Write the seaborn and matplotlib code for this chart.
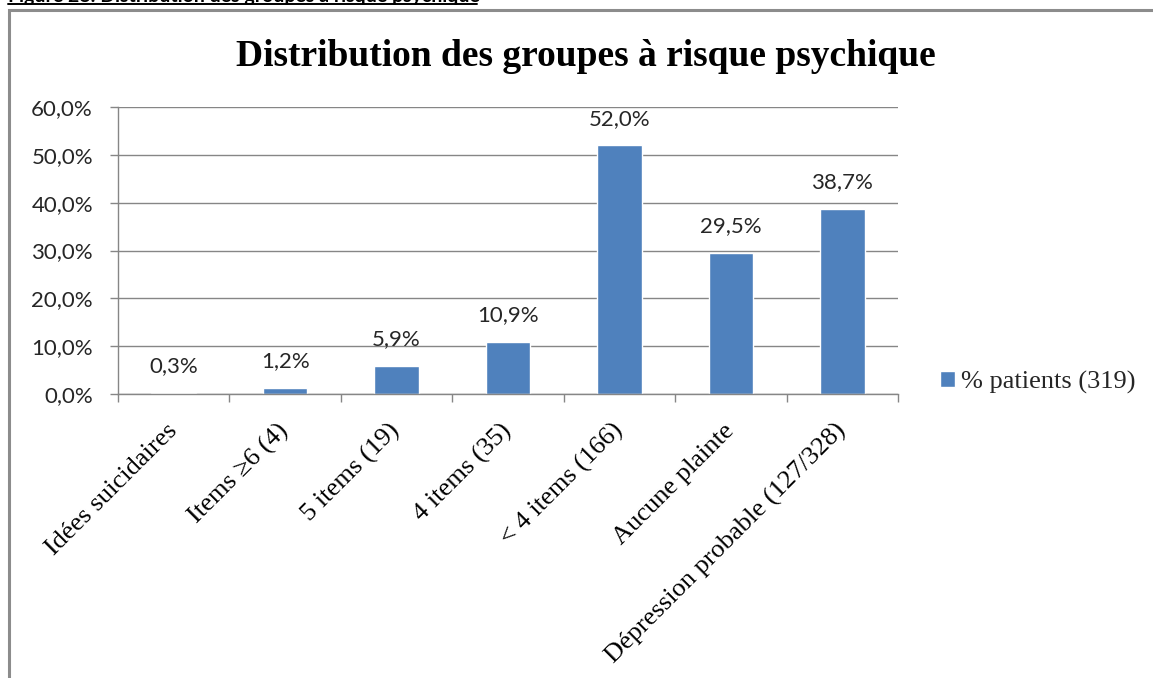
import matplotlib
matplotlib.use("Agg")
import matplotlib.pyplot as plt
from matplotlib.patches import Rectangle
from matplotlib.lines import Line2D
from matplotlib.ticker import FixedLocator
import seaborn as sns
import pandas as pd

categories = [
    "Idées suicidaires",
    "Items \u22656 (4)",
    "5 items (19)",
    "4 items (35)",
    "< 4 items (166)",
    "Aucune plainte",
    "Dépression probable (127/328)",
]
values = [0.3, 1.2, 5.9, 10.9, 52.0, 29.5, 38.7]
series_name = "% patients (319)"
y_ticks = [0, 10, 20, 30, 40, 50, 60]

title = "Distribution des groupes à risque psychique"
caption = "Figure 28: Distribution des groupes à risque psychique"

df = pd.DataFrame({"cat": categories, "val": values, "serie": series_name})

sns.set_theme(style="white")
plt.rcParams["font.family"] = ["Lato", "DejaVu Sans"]

BAR = "#4F81BD"
GRID = "#868686"
TXT = "#262626"
SERIF = ["Liberation Serif", "DejaVu Serif"]

W, H = 1153, 678
fig = plt.figure(figsize=(W / 100, H / 100), dpi=100)
fig.patch.set_facecolor("white")

# outer chart frame
fig.add_artist(Rectangle((9 / W, -0.05), 1.2, 1 - 10 / H + 0.05,
                         transform=fig.transFigure, fill=False,
                         edgecolor="#8c8c8c", linewidth=2.2))

# document caption (partly above the page edge)
fig.text(8 / W, 1 - 2 / H, caption, fontsize=14, fontweight="bold",
         color="black", ha="left", va="baseline")
fig.add_artist(Line2D([8 / W, 477 / W], [1 - 4.3 / H, 1 - 4.3 / H],
                      transform=fig.transFigure, color="black", linewidth=1.4))

ax = fig.add_axes([118 / W, 284 / H, 780 / W, 287 / H])
sns.barplot(data=df, x="cat", y="val", hue="serie", palette=[BAR],
            width=0.4, ax=ax, saturation=1, legend=True)

ax.set_xlim(-0.5, len(categories) - 0.5)
ax.set_ylim(0, 60)
ax.set_yticks(y_ticks)
ax.set_yticklabels([f"{t:.1f}".replace(".", ",") + "%" for t in y_ticks],
                   fontsize=16, color=TXT)
ax.yaxis.grid(True, color=GRID, linewidth=1)
ax.set_axisbelow(True)
ax.set_xlabel("")
ax.set_ylabel("")

for s in ["top", "right"]:
    ax.spines[s].set_visible(False)
for s in ["left", "bottom"]:
    ax.spines[s].set_color(GRID)
    ax.spines[s].set_linewidth(1)

ax.tick_params(axis="y", which="major", left=True, length=6, width=1,
               color=GRID, pad=12)
ax.tick_params(axis="x", which="major", length=0, pad=24)
ax.xaxis.set_minor_locator(FixedLocator([i - 0.5 for i in range(len(categories) + 1)]))
ax.tick_params(axis="x", which="minor", bottom=True, length=6, width=1, color=GRID)

ax.set_xticks(range(len(categories)))
ax.set_xticklabels(categories, rotation=45, ha="right", va="center",
                   rotation_mode="anchor", family=SERIF, fontsize=19, color="black")

for c in ax.containers:
    ax.bar_label(c, labels=[f"{v:.1f}".replace(".", ",") + "%" for v in values],
                 padding=12, fontsize=16, color=TXT)

ax.legend(loc="center left", bbox_to_anchor=(940 / W, 1 - 382 / H),
          bbox_transform=fig.transFigure, frameon=False,
          prop={"family": SERIF, "size": 19}, handlelength=0.55,
          handleheight=0.55, handletextpad=0.25, borderpad=0, borderaxespad=0)

fig.text(586 / W, 1 - 66 / H, title, family=SERIF, fontweight="bold",
         fontsize=27, ha="center", va="baseline", color="black")

fig.savefig("out.png", dpi=100, facecolor="white")
